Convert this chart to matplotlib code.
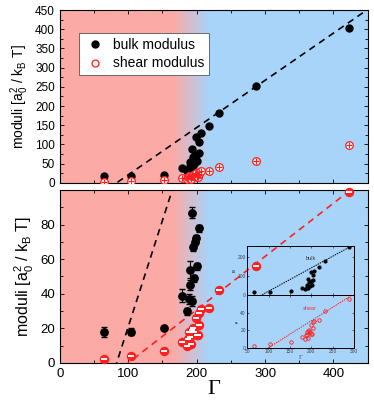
import numpy as np
import matplotlib
matplotlib.use('Agg')
import matplotlib.pyplot as plt

plt.rcParams['font.family'] = ['Liberation Sans', 'DejaVu Sans']
plt.rcParams['mathtext.fontset'] = 'custom'
plt.rcParams['mathtext.rm'] = 'Liberation Sans'
plt.rcParams['mathtext.it'] = 'Liberation Sans:italic'

# ---- data ----
bulk_gamma = [65, 104, 152, 178, 186, 189, 190, 190, 193, 193, 194, 196, 198, 199, 201, 203,
              199, 204, 207, 218, 232, 287, 423]
bulk_val = [18, 18, 20, 39, 30, 37, 45, 54, 36, 87, 67, 49, 70, 72, 56, 78,
            120, 107, 129, 149, 182, 252, 404]
bulk_err = [3, 2, 1, 4, 2, 3, 3, 5, 3, 3, 2, 2, 2, 2, 2, 2,
            3, 3, 3, 3, 3, 3, 3]

shear_gamma = [65, 104, 152, 178, 186, 188, 189, 190, 192, 193, 195, 196, 199, 200, 202, 203,
               204, 207, 218, 232, 287, 423]
shear_val = [2, 4, 7, 12, 10, 14, 18, 15, 11, 19, 20, 18, 26, 16, 16, 22,
             29, 31, 32, 42, 56, 99]

bulk_fit = [83, 1.23]     # zero crossing, slope
shear_fit = [100, 0.308]

red_bg = np.array([252, 170, 165]) / 255
blue_bg = np.array([168, 212, 250]) / 255
grad_lo, grad_hi = 165, 218

fig = plt.figure(figsize=(3.74, 4.01), dpi=100)
ax1 = fig.add_axes([0.160, 0.544, 0.823, 0.431])
ax2 = fig.add_axes([0.160, 0.095, 0.823, 0.431])

xs = np.linspace(0, 450, 451)
t = np.clip((xs - grad_lo) / (grad_hi - grad_lo), 0, 1)
img = (red_bg[None, :] * (1 - t[:, None]) + blue_bg[None, :] * t[:, None])[None, :, :]

def style(ax, ylim, yticks, fs):
    ax.imshow(img, extent=[0, 450, ylim[0], ylim[1]], aspect='auto', zorder=0, interpolation='bilinear')
    ax.set_xlim(0, 450)
    ax.set_ylim(*ylim)
    ax.set_yticks(yticks)
    ax.set_xticks([0, 100, 200, 300, 400])
    ax.set_xticks([50, 150, 250, 350], minor=True)
    ax.tick_params(which='both', direction='in', top=True, right=True, labelsize=fs, length=3, width=0.6)
    ax.tick_params(which='minor', length=2)
    for s in ax.spines.values():
        s.set_linewidth(0.8)

style(ax1, (0, 450), np.arange(0, 451, 50), 8.5)
style(ax2, (0, 100), np.arange(0, 81, 20), 9.5)
ax1.set_yticks(np.arange(25, 450, 50), minor=True)
ax2.set_yticks(np.arange(10, 100, 20), minor=True)
ax1.set_xticklabels([])

gx = np.linspace(0, 450, 200)
# top panel
ax1.plot(gx, bulk_fit[1] * (gx - bulk_fit[0]), 'k--', lw=1.2, dashes=(4, 3), zorder=2)
ax1.errorbar(bulk_gamma, bulk_val, yerr=bulk_err, fmt='o', color='k', ms=5, capsize=1.5, elinewidth=0.7, zorder=3)
ax1.plot(shear_gamma, shear_val, 'o', mfc='white', mec='#ff2020', ms=5.5, mew=0.9, zorder=4)
ax1.plot(shear_gamma, shear_val, '+', color='#ff2020', ms=4.5, mew=0.8, zorder=5)

h1, = ax1.plot([], [], 'o', color='k', ms=5)
h2, = ax1.plot([], [], 'o', mfc='white', mec='#ff2020', ms=5, mew=0.9)
leg = ax1.legend([h1, h2], ['bulk modulus', 'shear modulus'], loc='upper left', bbox_to_anchor=(0.062, 0.865),
                 borderaxespad=0, fontsize=10, frameon=True, fancybox=False, framealpha=1, edgecolor='#555555',
                 handletextpad=0.5, borderpad=0.35, handlelength=1.6, labelspacing=0.3)
leg.get_frame().set_linewidth(0.6)

# bottom panel
ax2.plot(gx, bulk_fit[1] * (gx - bulk_fit[0]), 'k--', lw=1.2, dashes=(4, 3), zorder=2)
ax2.plot(gx, shear_fit[1] * (gx - shear_fit[0]), '--', color='#ff2020', lw=1.2, dashes=(4, 3), zorder=2)
ax2.errorbar(bulk_gamma, bulk_val, yerr=bulk_err, fmt='o', color='k', ms=5.3, capsize=2, elinewidth=0.8, zorder=3)
ax2.plot(shear_gamma, shear_val, 'o', mfc='#ff2020', mec='#ff2020', ms=5.8, zorder=4, clip_on=False)
ax2.plot(shear_gamma, shear_val, '_', color='white', ms=3.8, mew=1.4, zorder=5, clip_on=False)

ylab = r'moduli [a$_\mathregular{0}^\mathregular{2}$ / k$_\mathregular{B}$ T]'
ax1.set_ylabel(ylab, fontsize=10, labelpad=3)
ax2.set_ylabel(ylab, fontsize=11.5, labelpad=3)
ax2.set_xlabel('Γ', family=['Liberation Serif'], fontsize=16, labelpad=0)

# inset
ins1 = fig.add_axes([0.661, 0.264, 0.286, 0.123])
ins2 = fig.add_axes([0.661, 0.133, 0.286, 0.131])
ix = np.linspace(50, 300, 100)
for a in (ins1, ins2):
    a.set_facecolor('none')
    a.set_xlim(50, 300)
    a.set_xticks([50, 100, 150, 200, 250, 300])
    a.tick_params(direction='in', labelsize=3.5, length=1.5, width=0.4, top=True, right=True, pad=1,
                  labelcolor='#444444')
    for s in a.spines.values():
        s.set_linewidth(0.7)
ins1.set_ylim(0, 260)
ins1.set_yticks([0, 100, 200])
ins1.set_xticklabels([])
ins2.set_ylim(0, 60)
ins2.set_yticks([0, 20, 40])
ins1.plot(ix, bulk_fit[1] * (ix - bulk_fit[0]), 'k', ls=(0, (1.5, 1)), lw=0.7)
ins1.plot(bulk_gamma, bulk_val, 'o', color='k', ms=2, clip_on=True)
ins2.plot(ix, shear_fit[1] * (ix - shear_fit[0]), color='#ff2020', ls=(0, (1.5, 1)), lw=0.7)
ins2.plot(shear_gamma, shear_val, 'o', mfc='none', mec='#ff2020', ms=2.5, mew=0.6)
ins1.text(0.55, 0.72, 'bulk', transform=ins1.transAxes, fontsize=4, color='#333333')
ins2.text(0.52, 0.72, 'shear', transform=ins2.transAxes, fontsize=4, color='#ff3030')
ins1.set_ylabel('B', fontsize=3, labelpad=1)
ins2.set_ylabel('μ', fontsize=3, labelpad=1)
ins2.set_xlabel('Γ', family=['Liberation Serif'], fontsize=4.5, labelpad=0.5, color='#444444')

fig.savefig('out.png', dpi=100)
